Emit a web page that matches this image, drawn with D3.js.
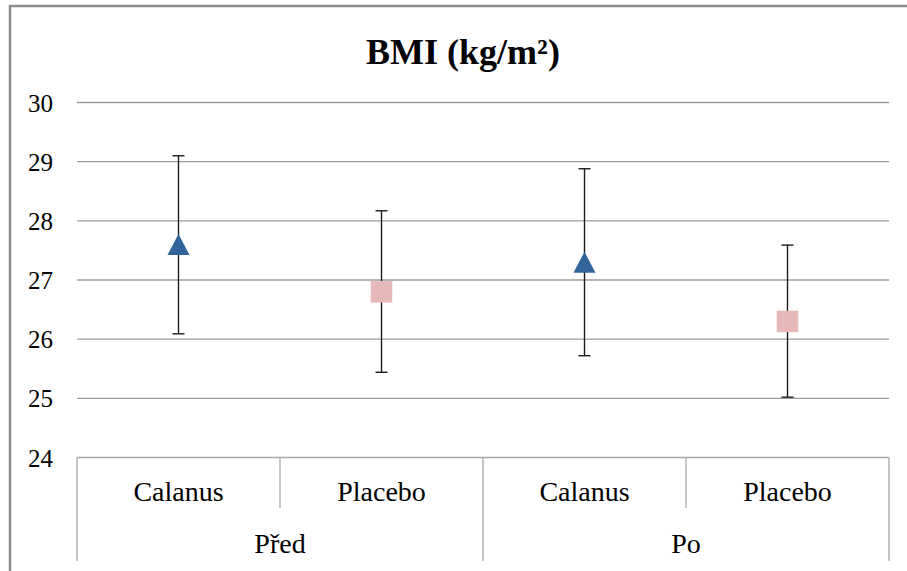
<!DOCTYPE html>
<html>
<head>
<meta charset="utf-8">
<script src="https://cdn.jsdelivr.net/npm/d3@7"></script>
<style>
html,body{margin:0;padding:0;background:#fff;}
svg{display:block;}
</style>
</head>
<body>
<svg id="chart" width="907" height="571"></svg>
<script>
const title = "BMI (kg/m²)";
const groups = ["Před", "Po"];
const categories = ["Calanus", "Placebo", "Calanus", "Placebo"];
const categoryGroup = ["Před", "Před", "Po", "Po"];
const means = [27.6, 26.8, 27.3, 26.3];
const errLow = [26.09, 25.44, 25.72, 25.02];
const errHigh = [29.10, 28.17, 28.88, 27.59];
const yTicks = [24, 25, 26, 27, 28, 29, 30];

(function () {
const svg = d3.select("#chart");
const W = 907, H = 571;
const pLeft = 77, pRight = 889, pTop = 102.5, pBottom = 457.5;
const font = "'Liberation Serif','Times New Roman',serif";

const keys = categories.map((c, i) => i);
const x = d3.scaleBand().domain(keys).range([pLeft, pRight]).paddingInner(0).paddingOuter(0);
const y = d3.scaleLinear().domain([24, 30]).range([pBottom, pTop]);
const gx = d3.scaleBand().domain(groups).range([pLeft, pRight]);

// outer border (chart area, cut off at right/bottom)
svg.append("path")
  .attr("d", `M10,${H + 5} L10,6 L${W + 5},6`)
  .attr("fill", "none").attr("stroke", "#8c8c8c").attr("stroke-width", 2.5);

// title
svg.append("text")
  .attr("x", 463).attr("y", 64)
  .attr("text-anchor", "middle")
  .attr("font-family", font).attr("font-weight", "bold").attr("font-size", 36)
  .attr("fill", "#000")
  .text(title);

// gridlines
svg.append("g").selectAll("line").data(yTicks.filter(t => t > 24)).join("line")
  .attr("x1", pLeft).attr("x2", pRight)
  .attr("y1", d => y(d)).attr("y2", d => y(d))
  .attr("stroke", "#9a9a9a").attr("stroke-width", 1.3);

// y tick labels
const yAxis = d3.axisLeft(y).tickValues(yTicks).tickFormat(d3.format("d")).tickSize(0).tickPadding(24);
const ya = svg.append("g").attr("transform", `translate(${pLeft},0)`).call(yAxis);
ya.select(".domain").remove();
ya.selectAll("text")
  .attr("font-family", font).attr("font-size", 25).attr("fill", "#000")
  .attr("dy", "0.34em");

// category axis box
const axisColor = "#a6a6a6";
svg.append("line").attr("x1", pLeft).attr("x2", pRight)
  .attr("y1", pBottom).attr("y2", pBottom)
  .attr("stroke", axisColor).attr("stroke-width", 1.3);

// inner separators
const innerSeps = [x(1), x(3)];
svg.append("g").selectAll("line").data(innerSeps).join("line")
  .attr("x1", d => d).attr("x2", d => d)
  .attr("y1", pBottom).attr("y2", 508)
  .attr("stroke", axisColor).attr("stroke-width", 1.3);

// outer separators
const outerSeps = [gx("Před"), gx("Po"), gx("Po") + gx.bandwidth()];
svg.append("g").selectAll("line").data(outerSeps).join("line")
  .attr("x1", d => d).attr("x2", d => d)
  .attr("y1", pBottom).attr("y2", 561)
  .attr("stroke", axisColor).attr("stroke-width", 1.3);

// category labels
svg.append("g").selectAll("text").data(keys).join("text")
  .attr("x", d => x(d) + x.bandwidth() / 2).attr("y", 501)
  .attr("text-anchor", "middle")
  .attr("font-family", font).attr("font-size", 28).attr("fill", "#000")
  .text(d => categories[d]);

// group labels
svg.append("g").selectAll("text").data(groups).join("text")
  .attr("x", d => gx(d) + gx.bandwidth() / 2).attr("y", 553)
  .attr("text-anchor", "middle")
  .attr("font-family", font).attr("font-size", 28).attr("fill", "#000")
  .text(d => d);

// error bars
const eb = svg.append("g").attr("stroke", "#1a1a1a").attr("stroke-width", 1.4);
keys.forEach(i => {
  const cx = x(i) + x.bandwidth() / 2;
  eb.append("line").attr("x1", cx).attr("x2", cx).attr("y1", y(errLow[i])).attr("y2", y(errHigh[i]));
  eb.append("line").attr("x1", cx - 6).attr("x2", cx + 6).attr("y1", y(errLow[i])).attr("y2", y(errLow[i]));
  eb.append("line").attr("x1", cx - 6).attr("x2", cx + 6).attr("y1", y(errHigh[i])).attr("y2", y(errHigh[i]));
});

// markers
const mk = svg.append("g");
keys.forEach(i => {
  const cx = x(i) + x.bandwidth() / 2;
  const cy = y(means[i]);
  if (categories[i] === "Calanus") {
    const s = 21;
    mk.append("path")
      .attr("d", `M${cx},${cy - s / 2} L${cx + s / 2 + 0.5},${cy + s / 2} L${cx - s / 2 - 0.5},${cy + s / 2} Z`)
      .attr("fill", "#33639b");
  } else {
    const s = 21.5;
    mk.append("rect")
      .attr("x", cx - s / 2).attr("y", cy - s / 2)
      .attr("width", s).attr("height", s)
      .attr("fill", "#e6b8b8");
  }
});
})();
</script>
</body>
</html>
